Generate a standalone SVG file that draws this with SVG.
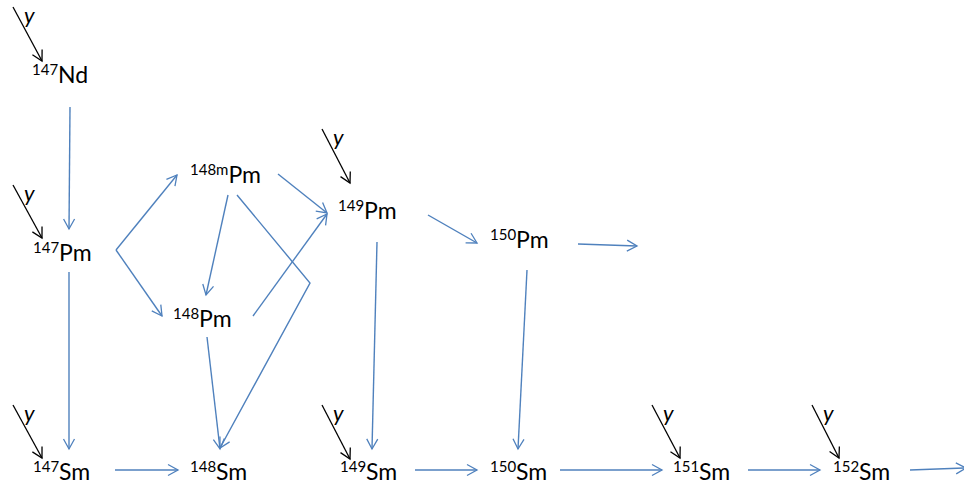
<svg xmlns="http://www.w3.org/2000/svg" width="964" height="491" viewBox="0 0 964 491">
<defs>
<marker id="ab" markerUnits="userSpaceOnUse" markerWidth="14" markerHeight="14" viewBox="0 0 14 14" refX="12" refY="7" orient="auto">
<path d="M2,1.5 L12,7 L2,12.5" fill="none" stroke="#4f81bd" stroke-width="1.3"/>
</marker>
<marker id="ak" markerUnits="userSpaceOnUse" markerWidth="14" markerHeight="14" viewBox="0 0 14 14" refX="12" refY="7" orient="auto">
<path d="M2,1.5 L12,7 L2,12.5" fill="none" stroke="#000" stroke-width="1.3"/>
</marker>
<style>
.n{font-family:Lato,"Open Sans","Liberation Sans",sans-serif;font-size:23px;fill:#000}
.s{font-size:15px}
.c line,.c polyline{stroke:#4f81bd;stroke-width:1.4;fill:none;marker-end:url(#ab)}
.g line{stroke:#000;stroke-width:1.3;marker-end:url(#ak)}
.g text{font-family:Lato,"Open Sans","Liberation Sans",sans-serif;font-style:italic;font-size:22px;fill:#000}
</style>
</defs>
<rect width="964" height="491" fill="#fff"/>
<g id="connectors" class="c">
<line x1="70" y1="107" x2="69" y2="229"/>
<line x1="69" y1="272" x2="69" y2="449"/>
<line x1="116" y1="250" x2="177" y2="175"/>
<line x1="116" y1="250" x2="162" y2="316"/>
<line x1="228" y1="195" x2="206" y2="295"/>
<line x1="278" y1="174" x2="327" y2="213"/>
<polyline points="237,195 310,283 220,448"/>
<line x1="253" y1="316" x2="327" y2="214"/>
<line x1="207" y1="337" x2="220" y2="449"/>
<line x1="377" y1="242" x2="372" y2="449"/>
<line x1="428" y1="215" x2="477" y2="243"/>
<line x1="578" y1="244" x2="637" y2="246"/>
<line x1="527" y1="270" x2="518" y2="449"/>
<line x1="115" y1="470" x2="178" y2="470"/>
<line x1="415" y1="470" x2="477" y2="470"/>
<line x1="560" y1="470" x2="662" y2="470"/>
<line x1="748" y1="470" x2="820" y2="470"/>
<line x1="910" y1="470" x2="966" y2="468"/>
</g>
<g id="gammas" class="g">
<g id="g-nd147"><line x1="13" y1="7" x2="42" y2="61"/><text x="24" y="23">y</text></g>
<g id="g-pm147"><line x1="13" y1="185" x2="42" y2="238"/><text x="24" y="201">y</text></g>
<g id="g-pm149"><line x1="322" y1="129" x2="350" y2="183"/><text x="333" y="145">y</text></g>
<g id="g-sm147"><line x1="13" y1="405" x2="42" y2="458"/><text x="24" y="421">y</text></g>
<g id="g-sm149"><line x1="322" y1="405" x2="350" y2="459"/><text x="333" y="421">y</text></g>
<g id="g-sm151"><line x1="652" y1="405" x2="680" y2="458"/><text x="663" y="421">y</text></g>
<g id="g-sm152"><line x1="812" y1="405" x2="839" y2="458"/><text x="823" y="421">y</text></g>
</g>
<g id="nd147"><text class="n" x="32" y="83"><tspan class="s" dy="-8">147</tspan><tspan dy="8">Nd</tspan></text></g>
<g id="pm147"><text class="n" x="33" y="261"><tspan class="s" dy="-8">147</tspan><tspan dy="8">Pm</tspan></text></g>
<g id="pm148m"><text class="n" x="190" y="183"><tspan class="s" dy="-8">148m</tspan><tspan dy="8">Pm</tspan></text></g>
<g id="pm148"><text class="n" x="173" y="327"><tspan class="s" dy="-8">148</tspan><tspan dy="8">Pm</tspan></text></g>
<g id="pm149"><text class="n" x="338" y="219"><tspan class="s" dy="-8">149</tspan><tspan dy="8">Pm</tspan></text></g>
<g id="pm150"><text class="n" x="490" y="248"><tspan class="s" dy="-8">150</tspan><tspan dy="8">Pm</tspan></text></g>
<g id="sm147"><text class="n" x="33" y="480"><tspan class="s" dy="-8">147</tspan><tspan dy="8">Sm</tspan></text></g>
<g id="sm148"><text class="n" x="190" y="480"><tspan class="s" dy="-8">148</tspan><tspan dy="8">Sm</tspan></text></g>
<g id="sm149"><text class="n" x="340" y="480"><tspan class="s" dy="-8">149</tspan><tspan dy="8">Sm</tspan></text></g>
<g id="sm150"><text class="n" x="490" y="480"><tspan class="s" dy="-8">150</tspan><tspan dy="8">Sm</tspan></text></g>
<g id="sm151"><text class="n" x="673" y="480"><tspan class="s" dy="-8">151</tspan><tspan dy="8">Sm</tspan></text></g>
<g id="sm152"><text class="n" x="833" y="480"><tspan class="s" dy="-8">152</tspan><tspan dy="8">Sm</tspan></text></g>
</svg>
